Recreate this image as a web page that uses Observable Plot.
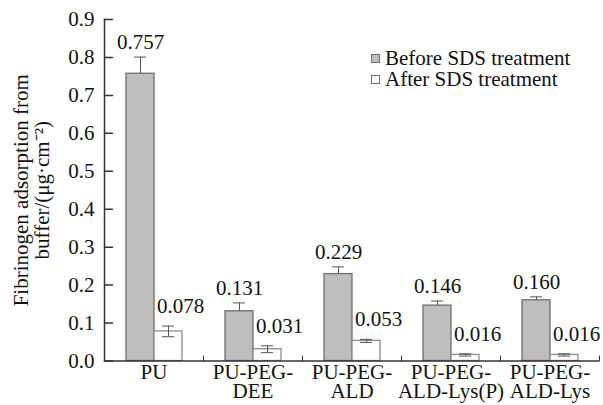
<!DOCTYPE html>
<html>
<head>
<meta charset="utf-8">
<script src="https://cdn.jsdelivr.net/npm/d3@7"></script>
<script src="https://cdn.jsdelivr.net/npm/@observablehq/plot@0.6"></script>
<style>
  body { margin: 0; background: #fff; }
  #wrap { position: relative; width: 603px; height: 405px; font-family: 'Liberation Serif', 'Times New Roman', Times, serif; }
  #wrap svg, #wrap svg text { font-family: 'Liberation Serif', 'Times New Roman', Times, serif !important; }
  #legend { position: absolute; left: 371px; top: 48px; font-size: 21px; color: #111; line-height: 21px; }
  #legend .row { display: flex; align-items: center; white-space: nowrap; }
  #legend .sw { width: 7px; height: 7px; border: 1px solid #6e6e6e; margin-right: 5px; }
</style>
</head>
<body>
<div id="wrap"></div>
<script>
const groups = ["PU", "PU-PEG-DEE", "PU-PEG-ALD", "PU-PEG-ALD-Lys(P)", "PU-PEG-ALD-Lys"];
const groupLabels = ["PU", "PU-PEG-\nDEE", "PU-PEG-\nALD", "PU-PEG-\nALD-Lys(P)", "PU-PEG-\nALD-Lys"];
const series = ["Before SDS treatment", "After SDS treatment"];
const seriesFill = ["#bebebe", "#ffffff"];
const seriesStroke = ["#6e6e6e", "#8a8a8a"];
const before = [0.757, 0.131, 0.229, 0.146, 0.160];
const beforeErr = [0.044, 0.022, 0.019, 0.012, 0.009];
const after = [0.078, 0.031, 0.053, 0.016, 0.016];
const afterErr = [0.014, 0.009, 0.004, 0.003, 0.003];
const yTicks = [0, 0.1, 0.2, 0.3, 0.4, 0.5, 0.6, 0.7, 0.8, 0.9];
const yLabel = "Fibrinogen adsorption from\nbuffer/(μg·cm⁻²)";

const rows = [];
groups.forEach((g, i) => {
  rows.push({group: g, series: series[0], value: before[i], lo: before[i], hi: before[i] + beforeErr[i]});
  rows.push({group: g, series: series[1], value: after[i], lo: after[i] - afterErr[i], hi: after[i] + afterErr[i]});
});
const beforeRows = rows.filter(d => d.series === series[0]);
const afterRows = rows.filter(d => d.series === series[1]);

const tickShape = {draw(context, l) { context.moveTo(0, 0); context.lineTo(0, -l); }};
const serif = "'Liberation Serif', 'Times New Roman', Times, serif";
const fs = 21;

const chart = Plot.plot({
  width: 603,
  height: 405,
  marginLeft: 102,
  marginRight: 3,
  marginTop: 19,
  marginBottom: 44.5,
  style: {fontFamily: serif, fontSize: fs + "px", color: "#111", background: "#fff"},
  fx: {domain: groups, padding: 0, label: null},
  x: {domain: series, paddingInner: 0, paddingOuter: 0.755, axis: null},
  y: {domain: [0, 0.9]},
  color: {domain: series, range: seriesFill},
  marks: [
    Plot.barY(rows, {fx: "group", x: "series", y: "value", fill: "series", stroke: d => seriesStroke[series.indexOf(d.series)], strokeWidth: 1.3}),
    Plot.ruleX(rows, {fx: "group", x: "series", y1: "lo", y2: "hi", stroke: "#555", strokeWidth: 1}),
    Plot.tickY(rows, {fx: "group", x: "series", y: "hi", stroke: "#555", strokeWidth: 1, inset: 8}),
    Plot.tickY(afterRows, {fx: "group", x: "series", y: "lo", stroke: "#555", strokeWidth: 1, inset: 8}),
    Plot.text(beforeRows, {fx: "group", x: "series", y: "hi", text: d => d.value.toFixed(3), lineAnchor: "bottom", dy: -8, fontSize: fs, fontFamily: serif, fill: "#111"}),
    Plot.text(afterRows, {fx: "group", x: "series", y: "hi", text: d => d.value.toFixed(3), lineAnchor: "bottom", dy: -13, dx: 12, fontSize: fs, fontFamily: serif, fill: "#111"}),
    Plot.ruleY([0], {stroke: "#333", strokeWidth: 1.5}),
    Plot.frame({anchor: "left", facetAnchor: "left", stroke: "#333", strokeWidth: 1.5}),
    Plot.vector([0], {frameAnchor: "bottom-right", length: 5, rotate: 0, anchor: "start", shape: tickShape, stroke: "#333", strokeWidth: 1}),
    Plot.vector(yTicks, {y: d => d, frameAnchor: "left", length: 8, rotate: 90, anchor: "start", shape: tickShape, stroke: "#333", strokeWidth: 1.5, facetAnchor: "left"}),
    Plot.axisY({ticks: yTicks, tickSize: 0, tickPadding: 10, tickFormat: d3.format(".1f"), fontSize: fs, fontFamily: serif, label: yLabel, labelAnchor: "center", labelArrow: "none", labelOffset: 91}),
    Plot.axisFx({anchor: "bottom", tickSize: 0, tickPadding: 4, fontSize: fs, fontFamily: serif, lineHeight: 0.92, label: null, tickFormat: d => groupLabels[groups.indexOf(d)]})
  ]
});

const wrap = document.getElementById("wrap");
wrap.appendChild(chart);
const legend = document.createElement("div");
legend.id = "legend";
series.forEach((s, i) => {
  const row = document.createElement("div");
  row.className = "row";
  const sw = document.createElement("span");
  sw.className = "sw";
  sw.style.background = seriesFill[i];
  const t = document.createElement("span");
  t.textContent = s;
  row.appendChild(sw);
  row.appendChild(t);
  legend.appendChild(row);
});
wrap.appendChild(legend);
</script>
</body>
</html>
